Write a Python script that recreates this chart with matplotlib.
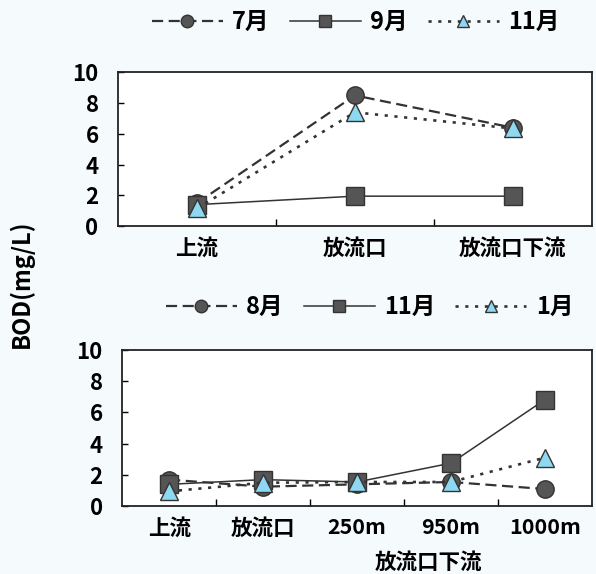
import numpy as np
import matplotlib
matplotlib.use('Agg')
import matplotlib.pyplot as plt
from matplotlib.lines import Line2D

plt.rcParams['font.family'] = ['Noto Sans CJK JP', 'DejaVu Sans']
plt.rcParams['font.weight'] = 'bold'

# Data
top_sites = ['上流', '放流口', '放流口下流']
top_labels = ['7月', '9月', '11月']
top_jul = [1.5, 8.5, 6.4]
top_sep = [1.4, 1.95, 1.95]
top_nov = [1.15, 7.4, 6.35]

bot_sites = ['上流', '放流口', '250m', '950m', '1000m']
bot_group = '放流口下流'
bot_labels = ['8月', '11月', '1月']
bot_aug = [1.7, 1.25, 1.4, 1.55, 1.1]
bot_nov = [1.4, 1.7, 1.55, 2.75, 6.8]
bot_jan = [0.95, 1.5, 1.55, 1.55, 3.1]

y_ticks = [0, 2, 4, 6, 8, 10]

BG = '#f5fbfd'
DARK = '#555555'
BLUE = '#8fd8f2'

styles = [
    dict(color='#333333', linestyle=(0, (5, 2.5)), lw=1.6, marker='o', mfc=DARK, mec='#333333'),
    dict(color='#333333', linestyle='-', lw=1.1, marker='s', mfc=DARK, mec='#333333'),
    dict(color='#333333', linestyle=(0, (1.2, 2.5)), lw=1.9, marker='^', mfc=BLUE, mec='#333333'),
]

fig = plt.figure(figsize=(5.96, 5.74), dpi=100, facecolor=BG)
ax1 = fig.add_axes([0.198, 0.606, 0.795, 0.268])
ax2 = fig.add_axes([0.205, 0.118, 0.788, 0.273])


def draw(ax, sites, series, labels, legend_y, legend_x):
    x = np.arange(len(sites))
    handles = []
    for vals, st, lab in zip(series, styles, labels):
        ax.plot(x, vals, markersize=12.5, mew=1.0, zorder=3, clip_on=False, **st)
        handles.append(Line2D([], [], markersize=9, mew=1.0, **st))
    ax.set_xlim(-0.5, len(sites) - 0.5)
    ax.set_ylim(0, 10)
    ax.set_yticks(y_ticks)
    ax.set_xticks(x)
    ax.set_xticklabels(sites, fontsize=15.5, fontweight='bold')
    ax.set_xticks(np.arange(0.5, len(sites) - 1), minor=True)
    ax.tick_params(axis='x', which='major', length=0, pad=8)
    ax.tick_params(axis='x', which='minor', direction='in', length=5, width=1)
    ax.tick_params(axis='y', direction='in', length=4, width=1, labelsize=16, pad=14)
    for lbl in ax.get_yticklabels():
        lbl.set_fontweight('bold')
    for sp in ax.spines.values():
        sp.set_linewidth(1.3)
        sp.set_color('#222222')
    ax.set_facecolor('white')
    fig.legend(handles, labels, loc='center', bbox_to_anchor=(legend_x, legend_y),
               ncol=3, frameon=False, handlelength=3.0, handletextpad=0.4,
               columnspacing=0.85, prop=dict(size=17, weight='bold'))


draw(ax1, top_sites, [top_jul, top_sep, top_nov], top_labels, 0.962, 0.597)
draw(ax2, bot_sites, [bot_aug, bot_nov, bot_jan], bot_labels, 0.465, 0.62)

ax2.text(2.76, -0.36, bot_group, transform=ax2.get_xaxis_transform(),
         ha='center', va='center', fontsize=15.5, fontweight='bold')

fig.text(0.035, 0.505, 'BOD(mg/L)', rotation=90, ha='center', va='center',
         fontsize=17, fontweight='bold')

fig.savefig('out.png', dpi=100, facecolor=BG)
